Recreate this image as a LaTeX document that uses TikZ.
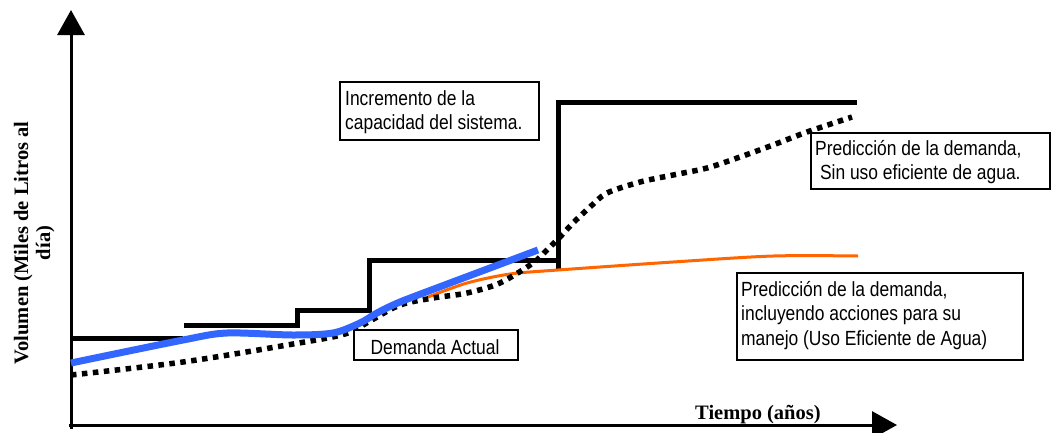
\documentclass[tikz,border=0pt]{standalone}
\usepackage{fontspec}
\setmainfont{Liberation Serif}
\newfontfamily\lblfont[FakeStretch=0.85]{Liberation Sans}
\usetikzlibrary{arrows.meta}
\definecolor{demblue}{RGB}{51,102,255}
\definecolor{demorange}{RGB}{255,102,0}
\tikzset{
  axisline/.style={line width=3pt,-{Triangle[length=25pt,width=27pt]}},
  capline/.style={line width=5pt},
  actualline/.style={line width=7pt,demblue},
  efline/.style={line width=3pt,demorange},
  noefline/.style={line width=5.5pt,dash pattern=on 5.5pt off 5.5pt},
  box/.style={draw,line width=1.8pt,fill=white,inner sep=0pt,anchor=north west},
  txt/.style={font=\lblfont\fontsize{20.5pt}{24.5pt}\selectfont,inner sep=0pt},
  axlbl/.style={font=\bfseries\fontsize{20.5pt}{22pt}\selectfont,inner sep=0pt}
}
\newcommand{\twolines}[2]{\vtop{\baselineskip=24.5pt\hbox{#1}\hbox{#2}}}
\newcommand{\threelines}[3]{\vtop{\baselineskip=24.5pt\hbox{#1}\hbox{#2}\hbox{#3}}}
\begin{document}
\begin{tikzpicture}[x=1pt,y=-1pt]
\useasboundingbox (0,0) rectangle (1052,432);
% axes
\coordinate (yb) at (71,429);
\coordinate (ytip) at (71,10);
\coordinate (xb) at (69,425);
\coordinate (xtip) at (897,425);
\draw[axisline] (yb) -- (ytip);
\draw[axisline] (xb) -- (xtip);
% capacity steps
\draw[capline] (71,338) -- (183,338);
\draw[capline] (184,325) -- (297,325) -- (297,310) -- (369,310) -- (369,260) -- (558,260);
\draw[capline] (558,270) -- (558,102) -- (857,102);
% efficient-use prediction
\draw[efline] plot[smooth,tension=0.5] coordinates {(428,297) (467,283) (510,274) (558,270) (673,262) (773,256) (858,256)};
% prediction without efficient use
\draw[noefline] plot[smooth,tension=0.5] coordinates {(71,375) (183,362) (293,344) (345,334) (370,321) (400,305) (433,298) (467,293) (500,283) (533,263) (547,250) (560,237) (573,223) (590,207) (607,193) (640,182) (673,175) (707,168) (740,157) (773,145) (807,132) (852,117)};
% boxes
\node[box,minimum width=199pt,minimum height=58pt] (incbox) at (339,81) {};
\node[txt,anchor=base west] (inc) at (345,105) {\twolines{Incremento de la}{capacidad del sistema.}};
\node[box,minimum width=164pt,minimum height=30pt] (dembox) at (353,329) {};
\node[txt,anchor=base] (dem) at (435,354) {Demanda Actual};
\node[box,minimum width=239pt,minimum height=56pt] (noefbox) at (810,132) {};
\node[txt,anchor=base west] (noef) at (815,155) {\twolines{Predicción de la demanda,}{ Sin uso eficiente de agua.}};
\node[box,minimum width=286pt,minimum height=87pt] (efbox) at (736,272) {};
\node[txt,anchor=base west] (ef) at (741,296) {\threelines{Predicción de la demanda,}{incluyendo acciones para su}{manejo (Uso Eficiente de Agua)}};
% actual demand
\draw[actualline] plot[smooth,tension=0.5] coordinates {(71,363) (183,340) (227,333) (293,335) (333,333) (360,323) (377,313) (400,302) (450,283) (538,250)};
% axis labels
\node[axlbl,rotate=90,anchor=base] (ylab) at (28,243) {\vtop{\baselineskip=22pt\halign{\hfil#\hfil\cr Volumen (Miles de Litros al\cr día)\cr}}};
\node[axlbl,anchor=base west] (xlab) at (695,419) {Tiempo (años)};
\end{tikzpicture}
\end{document}
